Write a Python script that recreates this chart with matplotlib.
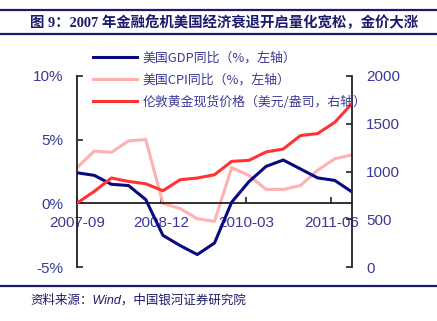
import numpy as np
import matplotlib.pyplot as plt
from matplotlib.lines import Line2D

# 季度数据: 2007-09 ~ 2011-09
quarters = ["2007-09", "2007-12", "2008-03", "2008-06", "2008-09", "2008-12",
            "2009-03", "2009-06", "2009-09", "2009-12", "2010-03", "2010-06",
            "2010-09", "2010-12", "2011-03", "2011-06", "2011-09"]
gdp_yoy = [2.4, 2.2, 1.5, 1.4, 0.3, -2.5, -3.3, -4.0, -3.1, 0.1,
           1.7, 2.9, 3.4, 2.7, 2.0, 1.8, 0.9]
cpi_yoy = [2.8, 4.1, 4.0, 4.9, 5.0, 0.0, -0.4, -1.2, -1.4, 2.8,
           2.2, 1.1, 1.1, 1.4, 2.6, 3.5, 3.8]
gold_price = [670, 792, 932, 896, 872, 799, 914, 932, 966, 1106,
              1116, 1204, 1235, 1375, 1396, 1514, 1710]
tick_labels = ["2007-09", "2008-12", "2010-03", "2011-06"]
tick_pos = [0, 4.9, 9.85, 14.8]

navy = "#0A0A80"
pink = "#FFB0B0"
red = "#FF3333"
label_col = "#3A3A96"
title_col = "#1C1C6C"

cjk = ["Noto Sans CJK SC", "DejaVu Sans"]
plt.rcParams["font.family"] = cjk

fig = plt.figure(figsize=(4.37, 3.21), dpi=100)

# 标题上下横线
fig.add_artist(Line2D([0, 1], [1 - 10 / 321, 1 - 10 / 321], color=title_col, lw=1.6))
fig.add_artist(Line2D([0, 1], [1 - 34 / 321, 1 - 34 / 321], color=title_col, lw=1.6))
fig.add_artist(Line2D([0, 1], [1 - 286 / 321, 1 - 286 / 321], color=title_col, lw=1.6))

fig.text(30 / 437, 1 - 23 / 321, "图 9：2007 年金融危机美国经济衰退开启量化宽松，金价大涨",
         family=["Liberation Serif", "Noto Sans CJK SC"], fontweight="bold",
         fontsize=10.4, color=title_col, va="center", ha="left")
fig.text(30 / 437, 1 - 300 / 321, "资料来源：Wind，中国银河证券研究院",
         family=["Liberation Sans", "Noto Sans CJK SC"], style="italic",
         fontsize=9, color=title_col, va="center", ha="left")

ax = fig.add_axes([77 / 437, 1 - 267.3 / 321, 275 / 437, 191.6 / 321])
ax2 = ax.twinx()

x = np.arange(len(quarters))
l1, = ax.plot(x, gdp_yoy, color=navy, lw=2.2, zorder=3)
l2, = ax.plot(x, cpi_yoy, color=pink, lw=2.2, zorder=2)
l3, = ax2.plot(x, gold_price, color=red, lw=2.2, zorder=3)

ax.set_xlim(0, 16)
ax.set_ylim(-5, 10)
ax2.set_ylim(0, 2000)
ax.set_yticks([-5, 0, 5, 10])
ax.set_yticklabels(["-5%", "0%", "5%", "10%"])
ax2.set_yticks([0, 500, 1000, 1500, 2000])

for a in (ax, ax2):
    a.patch.set_visible(False)
    for s in a.spines.values():
        s.set_visible(False)
ax.spines["left"].set_visible(True)
ax.spines["bottom"].set_visible(True)
ax.spines["bottom"].set_position(("data", 0))
ax2.spines["right"].set_visible(True)
for s in (ax.spines["left"], ax.spines["bottom"], ax2.spines["right"]):
    s.set_color("#222222")
    s.set_linewidth(1.3)

ax.set_xticks(tick_pos)
ax.set_xticklabels(tick_labels)
ax.tick_params(axis="x", direction="in", length=4, width=1.2, colors="#222222",
               labelcolor=label_col, labelsize=11, pad=9)
ax.tick_params(axis="y", direction="in", length=4, width=1.2, colors="#222222",
               labelcolor=label_col, labelsize=11, pad=10)
ax2.tick_params(axis="y", direction="in", length=4, width=1.2, colors="#222222",
                labelcolor=label_col, labelsize=11, pad=10)
for lab in ax.get_xticklabels() + ax.get_yticklabels() + ax2.get_yticklabels():
    lab.set_family(["Liberation Sans", "DejaVu Sans"])

leg = fig.legend([l1, l2, l3],
                 ["美国GDP同比（%，左轴）", "美国CPI同比（%，左轴）",
                  "伦敦黄金现货价格（美元/盎司，右轴）"],
                 loc="upper left", bbox_to_anchor=(88 / 437, 1 - 46 / 321),
                 frameon=False, fontsize=9.3, handlelength=3.4,
                 handletextpad=0.4, labelspacing=0.72, borderaxespad=0)
for t in leg.get_texts():
    t.set_color(label_col)

fig.savefig("out.png", dpi=100)
